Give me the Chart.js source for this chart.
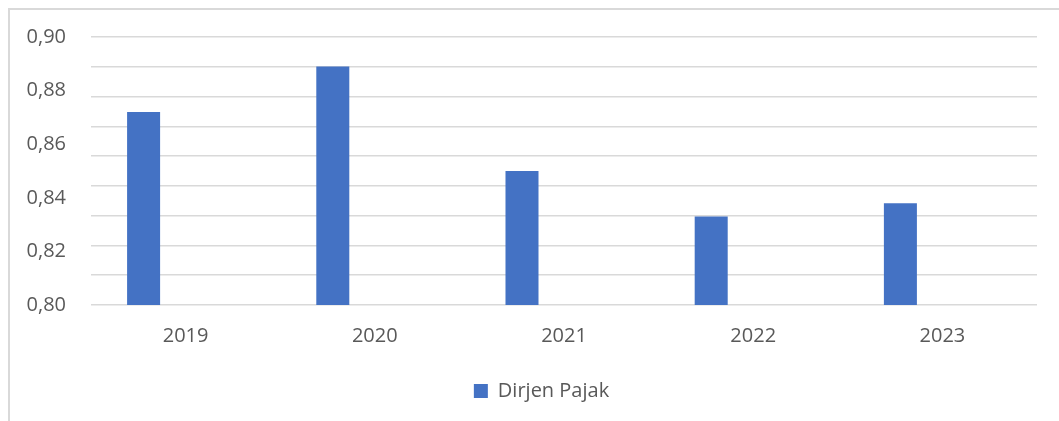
<!DOCTYPE html>
<html lang="id">
<head>
    <meta charset="UTF-8">
    <title>Dirjen Pajak</title>
    <script src="https://cdn.jsdelivr.net/npm/chart.js@4.4.0/dist/chart.umd.min.js"></script>
    <style>
        html, body { margin: 0; padding: 0; background: #fff; overflow: hidden; }
        .frame {
            position: absolute; left: 8px; top: 8px; width: 1100px; height: 500px;
            border-left: 2px solid #d9d9d9; border-top: 2px solid #d9d9d9;
        }
        .chart-box { position: absolute; left: 0; top: 0; width: 1059px; height: 421px; }
    </style>
</head>
<body>
    <div class="frame"></div>
    <div class="chart-box"><canvas id="pajakChart"></canvas></div>

    <script>
        // data
        const years = ['2019', '2020', '2021', '2022', '2023'];
        const dirjenPajak = [0.872, 0.889, 0.850, 0.833, 0.838];
        const emptySeries = [null, null, null, null, null];
        // the original has 10 evenly spaced gridlines that do not line up with the 6 labels
        const gridLineCount = 10;

        const fontFamily = "'Open Sans', 'Noto Sans', sans-serif";
        const textColor = '#595959';

        // legend sits a little right of the canvas centre in the original
        const shiftLegend = {
            id: 'shiftLegend',
            afterLayout(chart) {
                if (chart.legend) {
                    chart.legend.left += 18;
                    chart.legend.right += 18;
                }
            }
        };

        const ctx = document.getElementById('pajakChart').getContext('2d');
        new Chart(ctx, {
            type: 'bar',
            data: {
                labels: years,
                datasets: [
                    {
                        label: 'Dirjen Pajak',
                        data: dirjenPajak,
                        backgroundColor: '#4472c4',
                        categoryPercentage: 0.888,
                        barPercentage: 0.393
                    },
                    {
                        label: '',
                        data: emptySeries,
                        backgroundColor: 'transparent',
                        categoryPercentage: 0.888,
                        barPercentage: 0.393
                    }
                ]
            },
            plugins: [shiftLegend],
            options: {
                responsive: true,
                maintainAspectRatio: false,
                animation: false,
                layout: { padding: { left: 10, right: 22, top: 31, bottom: 10 } },
                plugins: {
                    tooltip: { enabled: false },
                    legend: {
                        position: 'bottom',
                        labels: {
                            filter: (item) => item.text !== '',
                            boxWidth: 14,
                            boxHeight: 14,
                            padding: 16,
                            color: textColor,
                            font: { family: fontFamily, size: 20 }
                        }
                    }
                },
                scales: {
                    x: {
                        afterFit: (scale) => { scale.height -= 2; },
                        grid: { display: false, drawTicks: false },
                        border: { display: false },
                        ticks: {
                            color: textColor,
                            padding: 19,
                            font: { family: fontFamily, size: 20 }
                        }
                    },
                    y: {
                        min: 0.80,
                        max: 0.90,
                        afterFit: (scale) => { scale.width = 81; },
                        grid: { display: false, drawTicks: false },
                        border: { display: false },
                        ticks: {
                            stepSize: 0.02,
                            padding: 25,
                            color: textColor,
                            font: { family: fontFamily, size: 20 },
                            callback: (value) => value.toFixed(2).replace('.', ',')
                        }
                    },
                    grid10: {
                        type: 'linear',
                        position: 'right',
                        min: 0,
                        max: gridLineCount - 1,
                        afterFit: (scale) => { scale.width = 0; },
                        grid: { color: '#d9d9d9', lineWidth: 1.5, drawTicks: false },
                        border: { display: false },
                        ticks: { display: false, stepSize: 1 }
                    }
                }
            }
        });
    </script>
</body>
</html>
